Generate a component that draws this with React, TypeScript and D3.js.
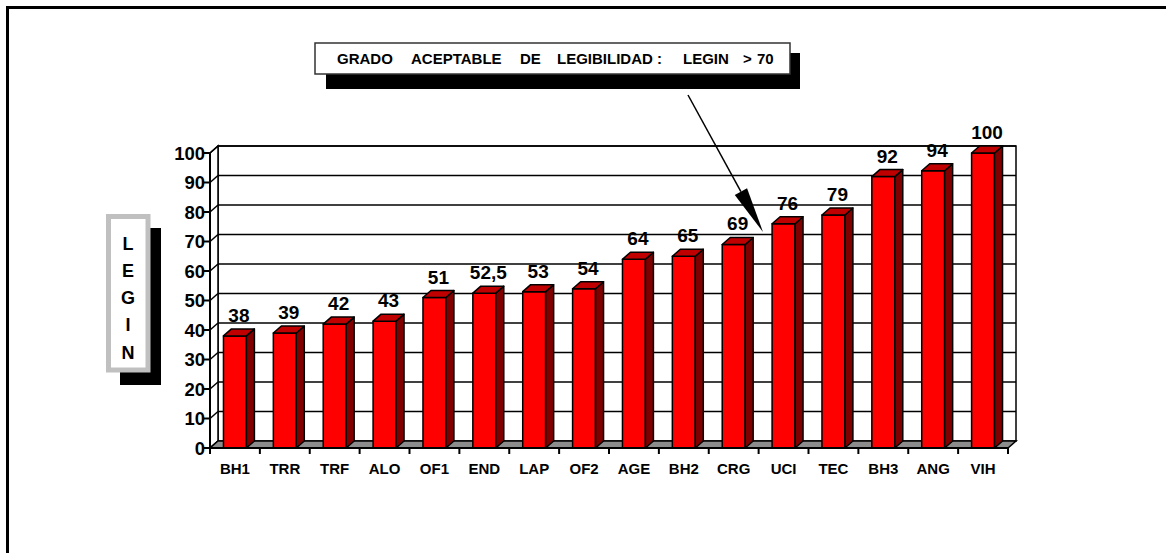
import React from "react";
import * as d3 from "d3";

// LEGIN score per unit
const categories = ["BH1", "TRR", "TRF", "ALO", "OF1", "END", "LAP", "OF2", "AGE", "BH2", "CRG", "UCI", "TEC", "BH3", "ANG", "VIH"];
const values = [38, 39, 42, 43, 51, 52.5, 53, 54, 64, 65, 69, 76, 79, 92, 94, 100];
const valueLabels = ["38", "39", "42", "43", "51", "52,5", "53", "54", "64", "65", "69", "76", "79", "92", "94", "100"];
const yTicks = [0, 10, 20, 30, 40, 50, 60, 70, 80, 90, 100];
const axisTitle = ["L", "E", "G", "I", "N"];
const noteWords = ["GRADO", "ACEPTABLE", "DE", "LEGIBILIDAD :", "LEGIN", ">", "70"];
const noteWordX = [337, 411, 520, 557, 683, 743, 757];

const W = 1166;
const H = 553;
const FONT = "Arial, 'Liberation Sans', Helvetica, sans-serif";
const DX = 8;
const DY = 7;
const X0 = 210;
const X1 = 1008;
const Y0 = 448;
const Y1 = 153;

export default function App() {
  const x = d3.scaleBand<string>().domain(categories).range([X0, X1]).paddingInner(0.54).paddingOuter(0.27);
  const y = d3.scaleLinear().domain([0, 100]).range([Y0, Y1]);
  const bw = x.bandwidth();
  const step = x.step();
  const pts = (p: number[][]) => p.map((q) => q.join(",")).join(" ");

  // arrow pointing at the threshold
  const aStart = [688, 95];
  const aTip = [763, 232];
  const vx = aTip[0] - aStart[0];
  const vy = aTip[1] - aStart[1];
  const len = Math.hypot(vx, vy);
  const ux = vx / len;
  const uy = vy / len;
  const headLen = 46;
  const headHalf = 7;
  const bc = [aTip[0] - ux * headLen, aTip[1] - uy * headLen];
  const head = [
    aTip,
    [bc[0] - uy * headHalf, bc[1] + ux * headHalf],
    [bc[0] + uy * headHalf, bc[1] - ux * headHalf],
  ];

  return (
    <svg width={W} height={H} style={{ position: "absolute", left: 0, top: 0, background: "#fff" }} fontFamily={FONT}>
      <rect x={0} y={0} width={W} height={H} fill="#fff" />
      {/* frame */}
      <line x1={7.5} y1={7.5} x2={W} y2={7.5} stroke="#000" strokeWidth={3} />
      <line x1={7.5} y1={6} x2={7.5} y2={H} stroke="#000" strokeWidth={3} />

      {/* back wall */}
      <rect x={X0 + DX} y={Y1 - DY} width={X1 - X0} height={Y0 - Y1} fill="#fff" stroke="#000" strokeWidth={1.5} />
      {yTicks.filter((t) => t > 0).map((t) => (
        <line key={"g" + t} x1={X0 + DX} x2={X1 + DX} y1={y(t) - DY} y2={y(t) - DY} stroke="#000" strokeWidth={1.5} />
      ))}
      {/* side wall */}
      <polygon points={pts([[X0, Y0], [X0 + DX, Y0 - DY], [X0 + DX, Y1 - DY], [X0, Y1]])} fill="#fff" stroke="#000" strokeWidth={1.5} />
      {yTicks.map((t) => (
        <line key={"d" + t} x1={X0} y1={y(t)} x2={X0 + DX} y2={y(t) - DY} stroke="#000" strokeWidth={1.5} />
      ))}
      {/* floor */}
      <polygon points={pts([[X0, Y0], [X1, Y0], [X1 + DX, Y0 - DY], [X0 + DX, Y0 - DY]])} fill="#8c8c8c" stroke="#000" strokeWidth={1.5} />

      {/* bars */}
      {categories.map((c, i) => {
        const bx0 = x(c) as number;
        const bx1 = bx0 + bw;
        const yv = y(values[i]);
        return (
          <g key={c} stroke="#000" strokeWidth={1.5} strokeLinejoin="round">
            <rect x={bx0} y={yv} width={bw} height={Y0 - yv} fill="#ff0000" />
            <polygon points={pts([[bx1, Y0], [bx1 + DX, Y0 - DY], [bx1 + DX, yv - DY], [bx1, yv]])} fill="#800000" />
            <polygon points={pts([[bx0, yv], [bx0 + DX, yv - DY], [bx1 + DX, yv - DY], [bx1, yv]])} fill="#c00000" />
          </g>
        );
      })}

      {/* value labels */}
      {categories.map((c, i) => (
        <text key={"v" + c} x={(x(c) as number) + bw / 2 + DX / 2} y={y(values[i]) - 14} textAnchor="middle" fontSize={19} fontWeight="bold" fill="#000">
          {valueLabels[i]}
        </text>
      ))}

      {/* y axis */}
      <line x1={X0} y1={Y0} x2={X0} y2={Y1} stroke="#000" strokeWidth={2} />
      {yTicks.map((t) => (
        <g key={"t" + t}>
          <line x1={X0 - 6} x2={X0} y1={y(t)} y2={y(t)} stroke="#000" strokeWidth={2} />
          <text x={X0 - 5} y={y(t) + 6.5} textAnchor="end" fontSize={18.5} fontWeight="bold" fill="#000">
            {t}
          </text>
        </g>
      ))}

      {/* x axis */}
      <line x1={X0} y1={Y0} x2={X1} y2={Y0} stroke="#000" strokeWidth={2} />
      {d3.range(categories.length + 1).map((k) => (
        <line key={"xt" + k} x1={X0 + k * step} x2={X0 + k * step} y1={Y0} y2={Y0 + 6} stroke="#000" strokeWidth={2} />
      ))}
      {categories.map((c) => (
        <text key={"x" + c} x={X0 + (categories.indexOf(c) + 0.5) * step} y={474} textAnchor="middle" fontSize={15} fontWeight="bold" fill="#000">
          {c}
        </text>
      ))}

      {/* axis title box */}
      <rect x={120} y={228} width={41} height={157} fill="#000" />
      <rect x={108.5} y={216.5} width={39.5} height={153.5} fill="#fff" stroke="#c0c0c0" strokeWidth={5} />
      {axisTitle.map((ch, i) => (
        <text key={"a" + i} x={128} y={243 + i * 27.3 + 6.5} textAnchor="middle" fontSize={18} fontWeight="bold" fill="#000">
          {ch}
        </text>
      ))}

      {/* note box */}
      <rect x={326} y={53} width={474} height={36} fill="#000" />
      <rect x={315} y={43} width={475} height={31} fill="#fff" stroke="#333" strokeWidth={1.5} />
      {noteWords.map((w, i) => (
        <text key={"n" + i} x={noteWordX[i]} y={64} fontSize={15} fontWeight="bold" fill="#000">
          {w}
        </text>
      ))}

      {/* arrow */}
      <line x1={aStart[0]} y1={aStart[1]} x2={bc[0]} y2={bc[1]} stroke="#000" strokeWidth={1.5} />
      <polygon points={pts(head)} fill="#000" />
    </svg>
  );
}
